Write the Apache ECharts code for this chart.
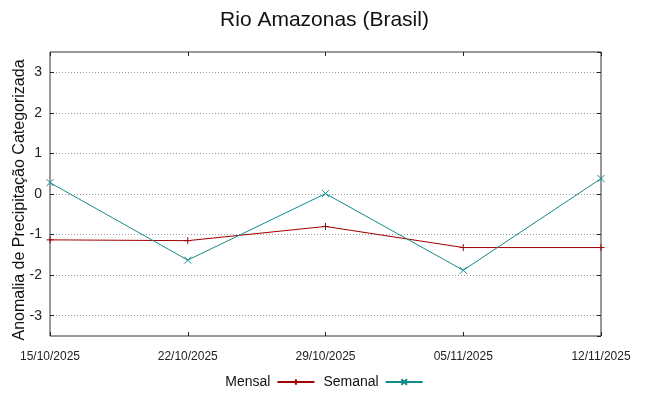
<!DOCTYPE html>
<html lang="pt">
<head>
<meta charset="UTF-8">
<title>Rio Amazonas (Brasil)</title>
<style>html,body{margin:0;padding:0;background:#fff;}</style>
</head>
<body>
<div id="main" style="width:649px; height:396px;"></div>
<script src="https://cdn.jsdelivr.net/npm/echarts@6/dist/echarts.min.js"></script>
<script>
// dados
var datas = ['15/10/2025', '22/10/2025', '29/10/2025', '05/11/2025', '12/11/2025'];
var mensal = [-1.13, -1.15, -0.80, -1.32, -1.32];
var semanal = [0.28, -1.63, 0.01, -1.88, 0.38];

var fonte = 'Liberation Sans, Arial, sans-serif';
var corMensal = '#a00000';
var corSemanal = '#148b8b';
var mais = 'path://M0,-5L0,5M-5,0L5,0';
var xis = 'path://M-5,-5L5,5M-5,5L5,-5';

var chart = echarts.init(document.getElementById('main'), null, { renderer: 'canvas' });

var eixoY = {
  min: -3.5, max: 3.5, splitNumber: 7, minInterval: 1, maxInterval: 1,
  axisLine: { show: false, onZero: false },
  axisTick: { show: true, inside: true, length: 4, lineStyle: { color: '#222' } },
  axisLabel: { showMinLabel: false, showMaxLabel: false, margin: 8,
    color: '#222', fontSize: 14, fontFamily: fonte },
  splitLine: { show: false }
};

var option = {
  backgroundColor: '#fff',
  animation: false,
  title: {
    text: 'Rio Amazonas (Brasil)', left: 'center', top: 5,
    textStyle: { fontSize: 21, fontWeight: 'normal', color: '#111', fontFamily: fonte }
  },
  legend: {
    bottom: 2, left: 'center', align: 'right', itemWidth: 37, itemHeight: 7, itemGap: 8,
    textStyle: { fontSize: 14, color: '#111', fontFamily: fonte, padding: [0, 2, 0, 0] },
    data: ['Mensal', 'Semanal']
  },
  grid: { left: 50, right: 48, top: 52, bottom: 60, outerBoundsMode: 'none', containLabel: false,
    show: true, borderColor: '#333', borderWidth: 1, backgroundColor: 'transparent' },
  xAxis: [{
    type: 'category', data: datas, boundaryGap: false,
    axisLine: { show: false, onZero: false },
    axisTick: { show: true, inside: true, length: 4, lineStyle: { color: '#222' } },
    axisLabel: { margin: 15, color: '#222', fontSize: 12, fontFamily: fonte, interval: 0 },
    splitLine: { show: false }
  }, {
    type: 'category', data: datas, boundaryGap: false, position: 'top',
    axisLine: { show: false, onZero: false },
    axisTick: { show: true, inside: true, length: 4, lineStyle: { color: '#222' } },
    axisLabel: { show: false }
  }],
  yAxis: [Object.assign({}, eixoY, {
    name: 'Anomalia de Precipitação Categorizada', nameLocation: 'middle', nameGap: 22,
    nameMoveOverlap: false,
    nameTextStyle: { fontSize: 16, color: '#111', fontFamily: fonte, padding: [0, 12, 0, 0] },
    splitLine: { show: true, lineStyle: { color: '#999', width: 1, type: [1, 2] } }
  }), Object.assign({}, eixoY, {
    position: 'right', axisLabel: { show: false }
  })],
  series: [{
    name: 'Mensal', type: 'line', data: mensal,
    symbol: mais, symbolSize: 7, showAllSymbol: true,
    lineStyle: { color: corMensal, width: 1 },
    itemStyle: { color: corMensal, borderColor: corMensal, borderWidth: 1 }
  }, {
    name: 'Semanal', type: 'line', data: semanal,
    symbol: xis, symbolSize: 7, showAllSymbol: true,
    lineStyle: { color: corSemanal, width: 1 },
    itemStyle: { color: corSemanal, borderColor: corSemanal, borderWidth: 1 }
  }]
};

chart.setOption(option);
</script>
</body>
</html>
